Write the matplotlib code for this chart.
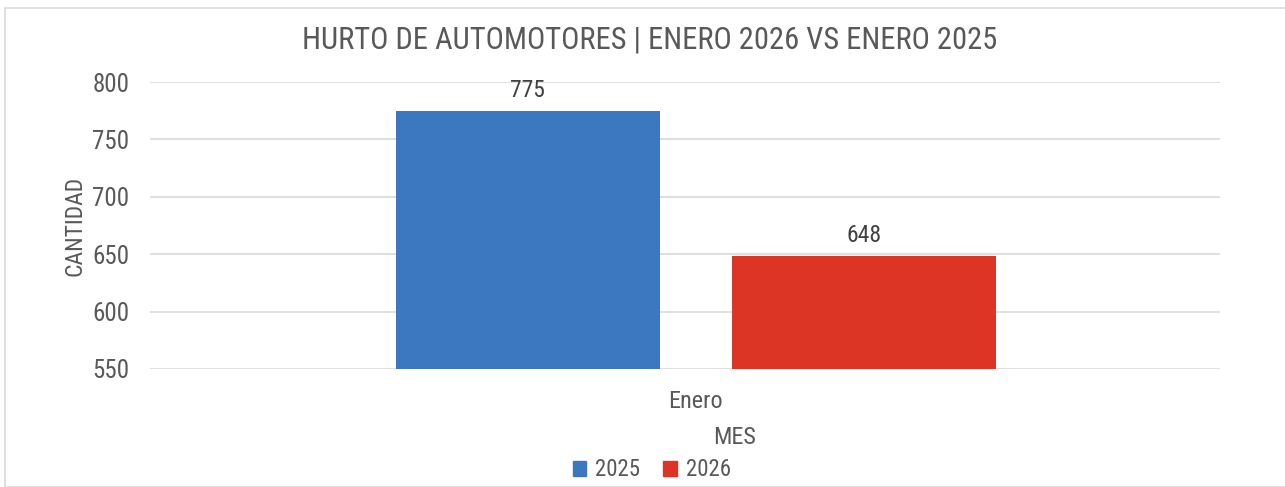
import matplotlib
matplotlib.use("Agg")
import matplotlib.pyplot as plt
from matplotlib.patches import Rectangle, Patch

categories = ["Enero"]
series_names = ["2025", "2026"]
values_2025 = [775]
values_2026 = [648]
colors = ["#3C78BF", "#DC3526"]
yticks = [550, 600, 650, 700, 750, 800]

plt.rcParams['font.family'] = ['Roboto Condensed', 'Liberation Sans', 'DejaVu Sans']
txt = "#595959"

W, H = 1285, 487
fig = plt.figure(figsize=(W / 100, H / 100), dpi=100)
fig.patches.append(Rectangle((5 / W, 0), 1.5, 1 - 8 / H, transform=fig.transFigure,
                             fill=False, edgecolor="#D9D9D9", linewidth=1.2))

ax = fig.add_axes([150 / W, 1 - 369 / H, (1220 - 150) / W, (369 - 82) / H])
bw = 0.2467
off = 0.157
x0 = 0
for i, (vals, c, name) in enumerate(zip([values_2025, values_2026], colors, series_names)):
    xs = [x0 + (-off if i == 0 else off) for _ in categories]
    ax.bar(xs, [v - 550 for v in vals], bottom=550, width=bw, color=c, label=name, zorder=3)
    for xx, v in zip(xs, vals):
        ax.text(xx, v + 8, str(v), ha="center", va="bottom", fontsize=17, color="#404040")

ax.set_xlim(-0.51, 0.49)
ax.set_ylim(550, 800)
ax.set_yticks(yticks)
ax.set_yticklabels([str(t) for t in yticks], fontsize=18, color=txt)
ax.set_xticks([0])
ax.set_xticklabels(categories, fontsize=17.5, color=txt)
ax.tick_params(axis="both", length=0)
ax.tick_params(axis="y", pad=15)
ax.tick_params(axis="x", pad=15)
ax.grid(axis="y", color="#D9D9D9", linewidth=1.2, zorder=0)
for s in ["top", "right", "left", "bottom"]:
    ax.spines[s].set_visible(False)

fig.text(650 / W, 1 - 40 / H, "HURTO DE AUTOMOTORES | ENERO 2026 VS ENERO 2025",
         ha="center", va="center", fontsize=22, color=txt)
fig.text(75 / W, 1 - 226 / H, "CANTIDAD", rotation=90, ha="center", va="center",
         fontsize=17, color=txt)
fig.text(735 / W, 1 - 438 / H, "MES", ha="center", va="center", fontsize=17.5, color=txt)

handles = [Patch(color=c, label=n) for c, n in zip(colors, series_names)]
fig.legend(handles=handles, loc="center", bbox_to_anchor=(652 / W, 1 - 470 / H), ncol=2,
           frameon=False, fontsize=16.5, labelcolor=txt, handlelength=0.6, handleheight=0.6,
           handletextpad=0.4, columnspacing=1.0)

fig.savefig("out.png", dpi=100)
